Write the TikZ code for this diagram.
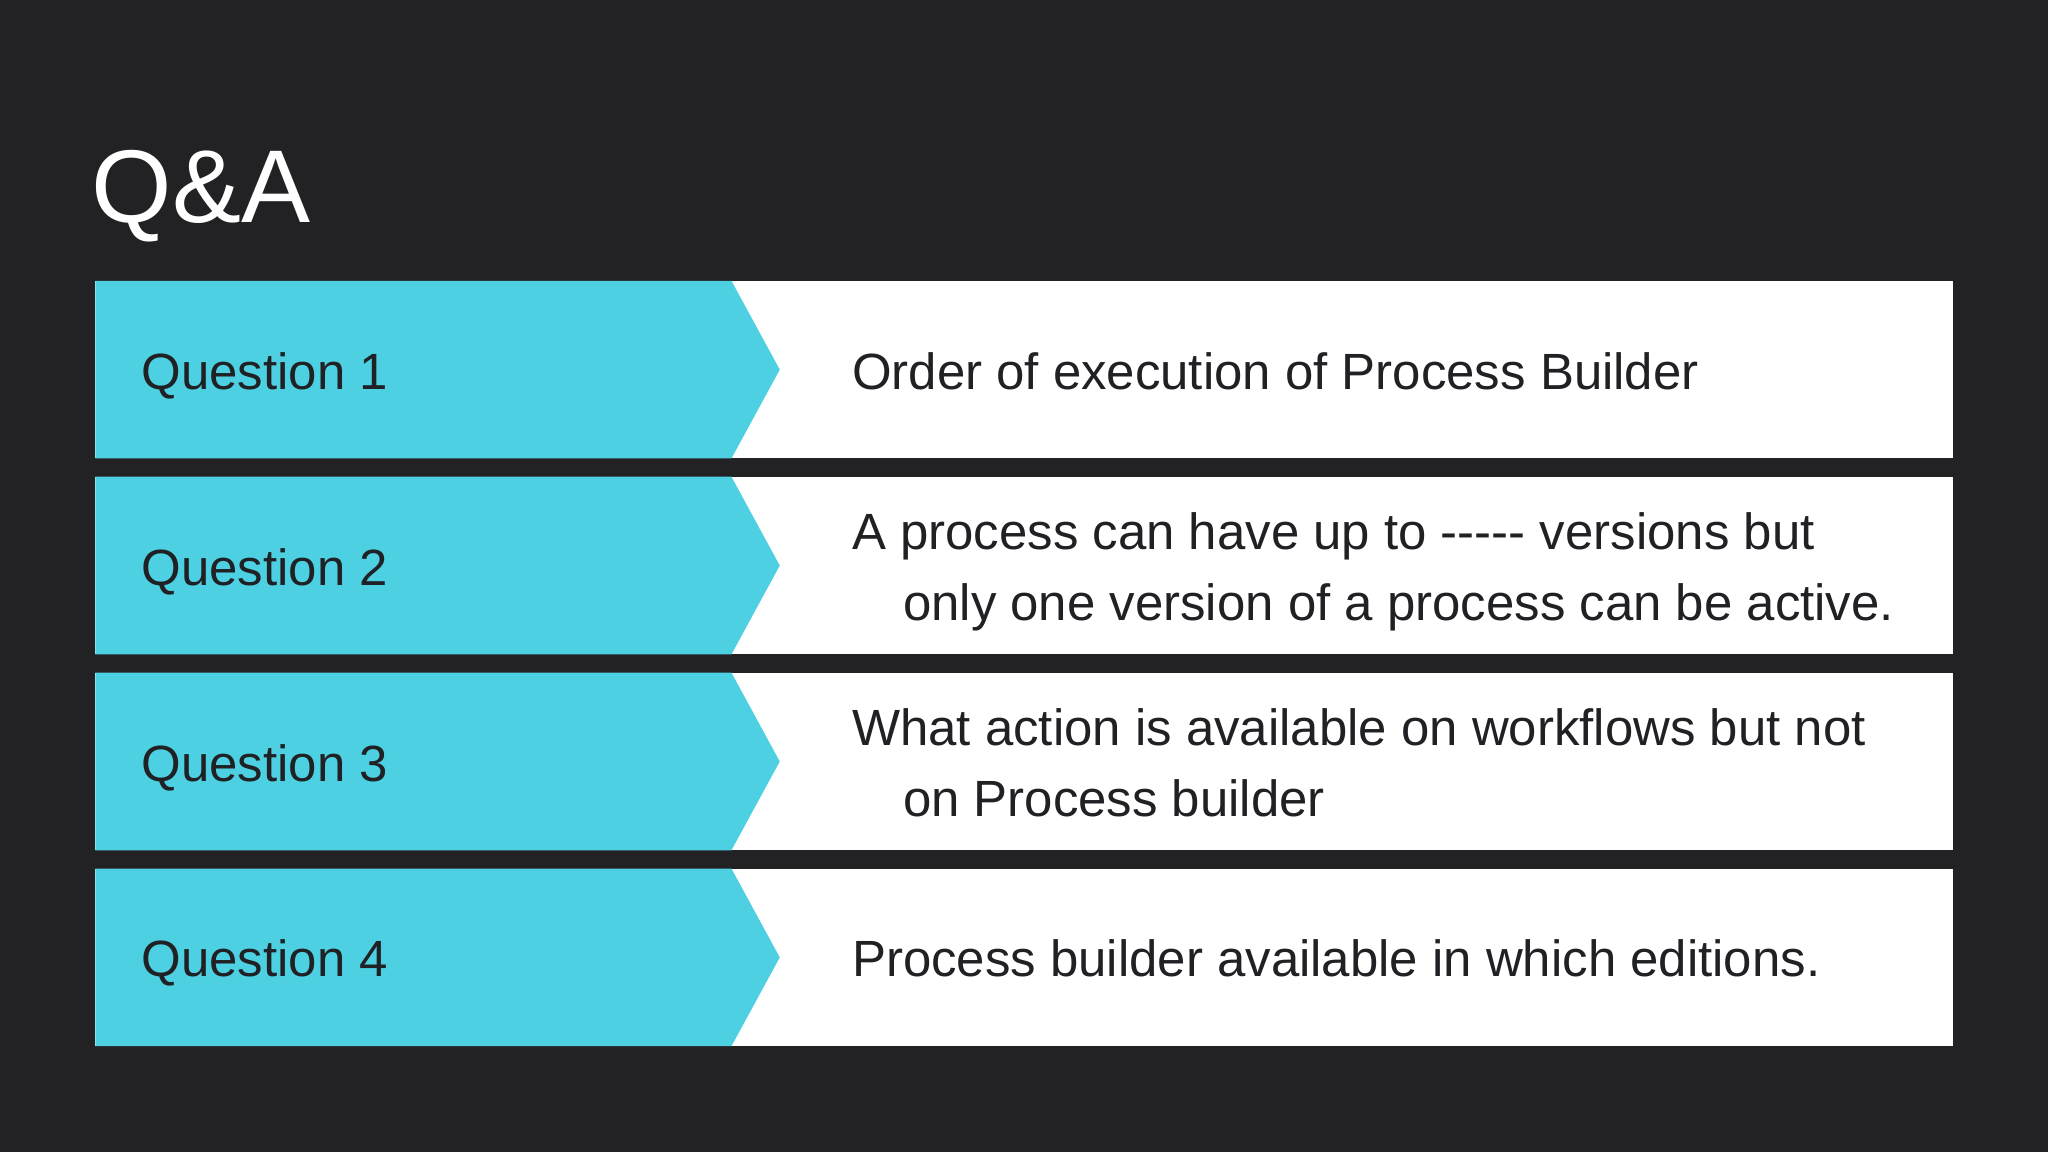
\documentclass[tikz,border=0pt]{standalone}
\usepackage{fontspec}
\setmainfont{Liberation Sans}
\definecolor{bg}{HTML}{222224}
\definecolor{cy}{HTML}{4DD0E1}
\definecolor{tx}{HTML}{202124}
\begin{document}
\begin{tikzpicture}[x=0.5pt,y=-0.5pt,
  qtext/.style={anchor=base west,inner sep=0,font=\fontsize{19.5}{24}\selectfont,text=tx}]
\fill[bg] (0,0) rectangle (1568,882);
\useasboundingbox (0,0) rectangle (1568,882);
\node[anchor=base west,inner sep=0,text=white,font=\fontsize{39.6}{48}\selectfont] (title) at (70,170) {Q\&A};
\foreach \i/\y in {1/215,2/365,3/515,4/665}{
  \fill[white] (73,\y) rectangle (1495,\y+136);
  \fill[cy] (73,\y) -- (560,\y) -- (597,\y+68) -- (560,\y+136) -- (73,\y+136) -- cycle;
  \node[qtext] (q\i) at (108,\y+83) {Question \i};
}
\node[qtext] (a1) at (652,298) {Order of execution of Process Builder};
\node[qtext] (a2a) at (652,421) {A process can have up to -{}-{}-{}-{}- versions but};
\node[qtext] (a2b) at (691,475) {only one version of a process can be active.};
\node[qtext] (a3a) at (652,571) {What action is available on workflows but not};
\node[qtext] (a3b) at (691,625) {on Process builder};
\node[qtext] (a4) at (652,748) {Process builder available in which editions.};
\end{tikzpicture}
\end{document}
